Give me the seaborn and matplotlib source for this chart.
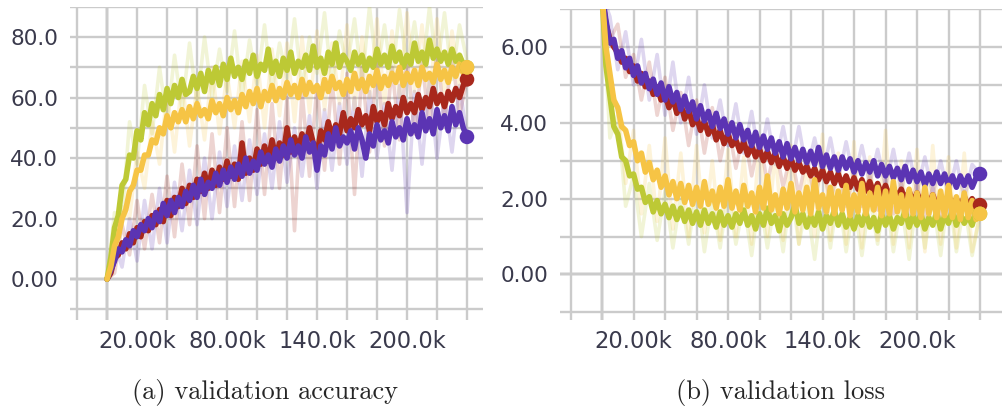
import numpy as np
import pandas as pd
import matplotlib
matplotlib.use("Agg")
import matplotlib.pyplot as plt
import seaborn as sns
from matplotlib.ticker import FixedLocator, MultipleLocator

# ---------------- data ----------------
steps_smooth = np.arange(97) * 2500      # 0 .. 240k
steps_raw = np.arange(49) * 5000         # 0 .. 240k

acc_lime = [0, 7, 17, 21, 31, 33, 41, 40, 49, 46, 55, 51, 58, 54, 61, 56, 63, 58, 64, 60,
            66, 61, 62, 67, 63, 68, 62, 69, 65, 70, 64, 71, 66, 73, 67, 70, 66, 72, 68, 74,
            67, 71, 69, 76, 68, 72, 67, 73, 69, 75, 68, 72, 70, 74, 69, 77, 70, 73, 68, 75,
            71, 78, 70, 74, 72, 69, 75, 71, 74, 69, 73, 70, 76, 71, 74, 70, 77, 72, 75, 70,
            74, 71, 78, 72, 75, 71, 79, 73, 76, 72, 75, 71, 76, 72, 74, 71, 70]
acc_yellow = [0, 4, 11, 14, 20, 23, 29, 31, 36, 36, 41, 41, 46, 45, 50, 48, 54, 50, 55, 52,
              56, 52, 57, 53, 58, 54, 56, 53, 59, 55, 58, 54, 60, 56, 59, 55, 61, 57, 62, 58,
              63, 57, 62, 59, 64, 59, 63, 60, 65, 61, 64, 60, 66, 61, 65, 62, 64, 60, 66, 62,
              67, 63, 65, 61, 66, 62, 68, 63, 66, 62, 67, 64, 69, 63, 67, 64, 68, 65, 70, 64,
              68, 65, 69, 64, 70, 66, 68, 65, 71, 66, 69, 65, 70, 67, 71, 68, 70]
acc_red = [0, 2, 7, 8, 12, 10, 15, 12, 17, 14, 19, 16, 21, 18, 23, 19, 26, 21, 27, 24,
           30, 25, 31, 27, 33, 29, 35, 30, 36, 31, 37, 33, 39, 34, 38, 33, 45, 35, 40, 36,
           43, 38, 44, 39, 46, 40, 45, 41, 50, 42, 47, 43, 48, 44, 50, 45, 41, 49, 46, 52,
           47, 51, 48, 55, 49, 53, 50, 56, 51, 54, 49, 57, 52, 55, 51, 58, 53, 57, 54, 60,
           55, 58, 55, 61, 56, 60, 57, 63, 58, 61, 57, 62, 59, 63, 60, 64, 66]
acc_purple = [0, 3, 6, 10, 9, 13, 11, 16, 14, 18, 16, 20, 17, 22, 19, 25, 21, 26, 22, 27,
              24, 29, 26, 31, 27, 33, 28, 32, 30, 35, 31, 36, 32, 37, 33, 38, 34, 40, 35, 39,
              36, 42, 38, 41, 37, 43, 39, 44, 40, 46, 41, 44, 40, 47, 42, 45, 36, 44, 41, 48,
              43, 50, 44, 47, 45, 49, 43, 50, 46, 40, 48, 44, 51, 46, 49, 45, 52, 47, 50, 46,
              53, 48, 51, 47, 55, 49, 53, 48, 56, 50, 54, 49, 57, 51, 55, 50, 47]

acc_lime_raw = [0, 22, 20, 52, 38, 64, 48, 70, 52, 74, 56, 78, 58, 80, 60, 76, 62, 82, 60, 79,
                64, 84, 62, 78, 66, 86, 63, 80, 68, 88, 64, 82, 70, 86, 65, 90, 68, 84, 66, 89,
                70, 85, 67, 90, 69, 88, 66, 84, 72]
acc_yellow_raw = [0, 8, 24, 20, 42, 30, 52, 38, 62, 42, 66, 44, 64, 46, 70, 48, 68, 50, 72, 52,
                  74, 50, 76, 54, 78, 52, 80, 55, 82, 56, 78, 58, 84, 56, 80, 60, 86, 58, 82, 60,
                  88, 62, 84, 60, 86, 62, 82, 64, 70]
acc_red_raw = [0, 2, 18, 8, 26, 10, 28, 12, 34, 14, 38, 18, 44, 20, 48, 22, 50, 24, 52, 26,
               56, 28, 58, 30, 60, 16, 62, 34, 64, 36, 66, 38, 68, 28, 70, 42, 72, 44, 70, 46,
               74, 48, 72, 50, 76, 52, 74, 54, 66]
acc_purple_raw = [0, 12, 4, 20, 6, 26, 10, 30, 12, 32, 16, 36, 18, 40, 20, 42, 24, 44, 26, 46,
                  28, 48, 30, 52, 32, 50, 34, 54, 30, 56, 36, 58, 38, 60, 34, 62, 40, 58, 36, 64,
                  22, 62, 38, 66, 40, 60, 42, 64, 47]

loss_purple = [7.4, 6.7, 6.1, 6.2, 5.7, 5.9, 5.45, 5.7, 5.25, 5.5, 5.05, 5.3, 4.9, 5.15, 4.75,
               5.05, 4.6, 4.95, 4.55, 4.8, 4.35, 4.7, 4.3, 4.55, 4.1, 4.45, 4.05, 4.3, 3.9, 4.25,
               3.85, 4.1, 3.7, 4.0, 3.6, 3.95, 3.55, 3.8, 3.4, 3.75, 3.35, 3.65, 3.3, 3.6, 3.2,
               3.5, 3.1, 3.45, 3.05, 3.35, 3.0, 3.3, 2.95, 3.25, 2.9, 3.35, 2.85, 3.15, 2.8, 3.1,
               2.75, 3.1, 2.8, 3.05, 2.7, 3.0, 2.65, 2.95, 2.7, 3.0, 2.6, 2.9, 2.6, 2.85, 2.55,
               2.8, 2.5, 2.85, 2.45, 2.75, 2.45, 2.7, 2.35, 2.65, 2.4, 2.7, 2.4, 2.65, 2.35, 2.6,
               2.3, 2.6, 2.35, 2.6, 2.3, 2.55, 2.65]
loss_red = [7.4, 6.6, 6.2, 6.0, 5.85, 5.6, 5.7, 5.35, 5.5, 5.1, 5.3, 4.95, 5.1, 4.75, 4.95,
            4.6, 4.75, 4.4, 4.65, 4.25, 4.5, 4.1, 4.35, 3.95, 4.15, 3.8, 4.05, 3.7, 3.95, 3.55,
            3.8, 3.45, 3.7, 3.4, 3.55, 3.25, 3.5, 3.15, 3.4, 3.1, 3.3, 3.0, 3.25, 2.95, 3.2,
            2.85, 3.1, 2.8, 3.05, 2.75, 2.95, 2.7, 2.85, 2.6, 2.8, 2.5, 2.75, 2.45, 2.7, 2.4,
            2.65, 2.35, 2.6, 2.3, 2.55, 2.25, 2.5, 2.2, 2.45, 2.15, 2.4, 2.1, 2.35, 2.05, 2.3,
            2.0, 2.25, 1.95, 2.2, 1.9, 2.15, 1.9, 2.1, 1.85, 2.1, 1.8, 2.05, 1.8, 2.1, 1.75,
            2.0, 1.75, 2.05, 1.8, 2.0, 1.75, 1.83]
loss_lime = [7.4, 5.5, 4.7, 3.9, 3.7, 3.1, 3.0, 2.6, 2.65, 2.25, 2.3, 1.9, 2.05, 1.65, 1.95,
             1.6, 1.85, 1.5, 1.8, 1.45, 1.75, 1.4, 1.7, 1.35, 1.65, 1.3, 1.7, 1.35, 1.6, 1.25,
             1.65, 1.3, 1.55, 1.25, 1.6, 1.35, 1.7, 1.3, 1.55, 1.2, 1.6, 1.3, 1.75, 1.35, 1.55,
             1.15, 1.6, 1.3, 1.5, 1.85, 1.35, 1.6, 1.25, 1.55, 1.3, 1.65, 1.2, 1.55, 1.35, 1.7,
             1.3, 1.6, 1.25, 1.5, 1.2, 1.55, 1.3, 1.65, 1.25, 1.5, 1.15, 1.6, 1.3, 1.55, 1.2,
             1.5, 1.35, 1.7, 1.25, 1.55, 1.3, 1.6, 1.2, 1.5, 1.3, 1.65, 1.2, 1.55, 1.35, 1.7,
             1.3, 1.6, 1.35, 1.55, 1.3, 1.65, 1.6]
loss_yellow = [7.4, 6.0, 5.3, 4.6, 4.4, 3.9, 3.8, 3.4, 3.5, 3.0, 3.2, 2.7, 2.95, 2.5, 2.75,
               2.3, 2.6, 2.1, 2.45, 2.0, 2.4, 1.9, 2.35, 1.85, 2.3, 1.8, 2.45, 1.85, 2.2, 1.75,
               2.3, 1.8, 2.5, 1.75, 2.2, 1.7, 2.35, 1.8, 2.15, 1.65, 2.3, 1.75, 2.6, 1.7, 2.1,
               1.6, 2.25, 1.75, 2.4, 1.65, 2.15, 1.7, 2.3, 1.6, 2.5, 1.75, 2.1, 1.65, 2.3, 1.6,
               2.2, 1.7, 2.35, 1.55, 2.1, 1.65, 2.4, 1.6, 2.15, 1.7, 2.3, 1.55, 2.2, 1.6, 2.45,
               1.65, 2.1, 1.55, 2.25, 1.6, 2.15, 1.5, 2.3, 1.6, 2.1, 1.5, 2.2, 1.55, 2.35, 1.5,
               2.05, 1.45, 2.15, 1.5, 1.95, 1.45, 1.6]

loss_purple_raw = [7.4, 6.8, 5.4, 6.4, 5.0, 6.2, 4.6, 5.8, 4.2, 5.6, 4.0, 5.2, 3.7, 5.0, 3.6,
                   4.6, 3.4, 4.5, 3.2, 4.3, 3.0, 4.1, 2.9, 3.9, 2.8, 3.9, 2.7, 3.6, 2.6, 3.6,
                   2.5, 3.5, 2.5, 3.4, 2.4, 3.3, 2.3, 3.3, 2.2, 3.2, 2.2, 3.1, 2.1, 3.0, 2.1,
                   3.0, 2.0, 2.9, 2.65]
loss_red_raw = [7.4, 6.2, 6.6, 5.2, 5.8, 4.6, 5.6, 4.2, 5.2, 3.8, 4.8, 3.4, 4.6, 3.2, 4.4,
                3.0, 4.0, 2.8, 3.8, 2.6, 3.6, 2.4, 3.4, 2.3, 3.2, 2.1, 3.1, 2.0, 2.9, 1.9,
                2.8, 1.8, 2.7, 1.8, 2.6, 1.7, 2.5, 1.6, 2.4, 1.6, 2.4, 1.5, 2.3, 1.5, 2.3,
                1.4, 2.2, 1.5, 1.83]
loss_lime_raw = [7.4, 3.6, 4.2, 1.8, 2.6, 1.0, 2.4, 0.9, 2.2, 0.7, 2.1, 0.8, 2.3, 0.6, 2.0,
                 0.7, 2.2, 0.8, 1.9, 0.5, 2.1, 0.7, 2.0, 0.6, 2.3, 0.8, 1.9, 0.4, 2.1, 0.7,
                 2.2, 0.6, 1.9, 0.5, 2.0, 0.8, 2.2, 0.6, 1.9, 0.4, 2.1, 0.7, 2.0, 0.5, 2.2,
                 0.6, 1.9, 0.5, 1.6]
loss_yellow_raw = [7.4, 5.0, 4.4, 2.4, 3.8, 1.6, 3.4, 1.4, 3.6, 1.2, 3.2, 1.0, 3.4, 1.1, 3.0,
                   0.9, 3.3, 1.0, 3.1, 0.8, 3.6, 1.0, 3.2, 0.9, 3.4, 0.8, 3.0, 1.0, 3.7, 0.9,
                   3.2, 0.8, 3.5, 0.7, 3.1, 0.9, 3.8, 0.8, 3.0, 0.7, 3.3, 0.6, 3.4, 0.8, 3.1,
                   0.7, 3.2, 0.6, 1.6]

xtick_values = [20000, 80000, 140000, 200000]
xtick_labels = ["20.00k", "80.00k", "140.0k", "200.0k"]
acc_ytick_values = [0, 20, 40, 60, 80]
acc_ytick_labels = ["0.00", "20.0", "40.0", "60.0", "80.0"]
loss_ytick_values = [0, 2, 4, 6]
loss_ytick_labels = ["0.00", "2.00", "4.00", "6.00"]
captions = ["(a) validation accuracy", "(b) validation loss"]

# ---------------- style ----------------
sns.set_style("white")
plt.rcParams["font.family"] = ["DejaVu Sans"]

C_RED = "#a8281c"
C_PURPLE = "#5b34b3"
C_LIME = "#bdc935"
C_YELLOW = "#f6c445"

fig = plt.figure(figsize=(10.03, 4.12), dpi=100)
ax1 = fig.add_axes([0.0698, 0.2233, 0.4118, 0.7603])
ax2 = fig.add_axes([0.5583, 0.2233, 0.4417, 0.7548])


def style(ax, xlim, ylim, ystep, yvals, ylabels):
    ax.set_xlim(*xlim)
    ax.set_ylim(*ylim)
    ax.xaxis.set_major_locator(FixedLocator(xtick_values))
    ax.set_xticklabels(xtick_labels)
    ax.xaxis.set_minor_locator(MultipleLocator(20000))
    ax.yaxis.set_major_locator(FixedLocator(yvals))
    ax.set_yticklabels(ylabels)
    ax.yaxis.set_minor_locator(MultipleLocator(ystep))
    ax.grid(which="both", color="#cbcbcb", lw=1.7)
    ax.set_axisbelow(True)
    ax.tick_params(which="both", length=0, labelsize=15.5, labelcolor="#3a3a4c")
    ax.tick_params(axis="x", labelsize=16.3)
    ax.tick_params(axis="y", pad=8.5)
    ax.tick_params(axis="x", pad=7.5)
    for s in ax.spines.values():
        s.set_visible(False)
    ax.axhline(0, color="#8c8c8c", lw=1.7, zorder=0.5)
    ax.axvline(0, color="#8c8c8c", lw=1.7, zorder=0.5)
    ax.set_xlabel("")
    ax.set_ylabel("")


def draw(ax, raws, smooths, colors):
    for r, c in zip(raws, colors):
        sns.lineplot(x=steps_raw, y=r, color=c, lw=2.6, alpha=0.2, ax=ax,
                     estimator=None, legend=False)
    for s, c in zip(smooths, colors):
        sns.lineplot(x=steps_smooth, y=s, color=c, lw=4.0, ax=ax,
                     estimator=None, legend=False)
        sns.scatterplot(x=steps_smooth[-1:], y=s[-1:], color=c, s=110,
                        edgecolor="none", ax=ax, legend=False, zorder=5)


colors = [C_RED, C_PURPLE, C_LIME, C_YELLOW]
draw(ax1, [acc_red_raw, acc_purple_raw, acc_lime_raw, acc_yellow_raw],
     [acc_red, acc_purple, acc_lime, acc_yellow], colors)
draw(ax2, [loss_red_raw, loss_purple_raw, loss_lime_raw, loss_yellow_raw],
     [loss_red, loss_purple, loss_lime, loss_yellow], colors)

style(ax1, (-24700, 250700), (-13.5, 90), 10, acc_ytick_values, acc_ytick_labels)
style(ax2, (-26700, 254600), (-1.2, 7.0), 1, loss_ytick_values, loss_ytick_labels)

fig.text(265 / 1003, 1 - 393 / 412, captions[0], ha="center", va="center",
         fontfamily="cmr10", fontsize=19)
fig.text(780 / 1003, 1 - 393 / 412, captions[1], ha="center", va="center",
         fontfamily="cmr10", fontsize=19)

fig.savefig("out.png", dpi=100)
